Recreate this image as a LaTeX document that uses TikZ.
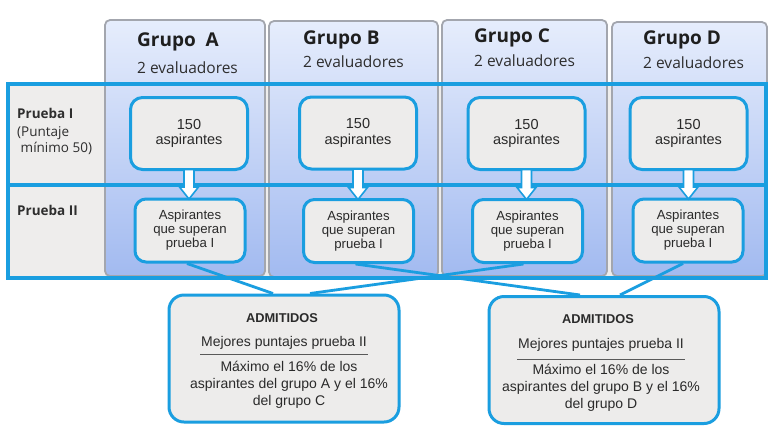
\documentclass[tikz,border=0pt]{standalone}
\usepackage{fontspec}
\setmainfont{Liberation Sans}
\newfontfamily\headfont{Open Sans}
\usetikzlibrary{calc}
\definecolor{flowblue}{HTML}{1A9EE0}
\definecolor{boxgray}{HTML}{EDECEB}
\definecolor{cellgray}{HTML}{EEEDEC}
\definecolor{panelline}{HTML}{A3A6AE}
\definecolor{paneltop}{HTML}{E6EDFC}
\definecolor{panelbot}{HTML}{A2BAF0}
\definecolor{txt}{HTML}{2A2A2A}
\tikzset{
  panel/.style={draw=panelline, line width=1.8pt, rounded corners=5pt,
    top color=paneltop, bottom color=panelbot, inner sep=0pt},
  topbox/.style={draw=flowblue, line width=3pt, rounded corners=12pt,
    fill=boxgray, minimum width=117pt, minimum height=72pt, align=center,
    font=\fontsize{14.5}{15.5}\selectfont, text=txt, inner sep=0pt},
  lowbox/.style={draw=flowblue, line width=3pt, rounded corners=11pt,
    fill=boxgray, minimum width=110pt, minimum height=63pt, align=center,
    font=\fontsize{13.2}{14}\selectfont, text=txt, inner sep=0pt},
  admbox/.style={draw=flowblue, line width=3pt, rounded corners=15pt,
    fill=boxgray, minimum width=230pt, minimum height=127pt, inner sep=0pt},
  grouptitle/.style={anchor=west, font=\headfont\bfseries\fontsize{19}{20}\selectfont, text=black!88, inner sep=0pt},
  groupsub/.style={anchor=west, font=\headfont\fontsize{15.5}{16}\selectfont, text=black!82, inner sep=0pt},
  rowlabel/.style={anchor=north west, align=left, font=\headfont\fontsize{13.5}{18}\selectfont, text=black!82, inner sep=0pt},
  admtext/.style={align=center, font=\fontsize{14}{17}\selectfont, text=txt, inner sep=0pt},
  link/.style={draw=flowblue, line width=2.8pt},
  hollow/.style={draw=flowblue, line width=1.6pt, fill=white, line join=miter}
}
% draws a hollow down arrow from #1 (top) to #2 (tip)
\newcommand{\downarrowshape}[2]{%
  \path[hollow] let \p1=#1, \p2=#2 in
    (\x1-5pt,\y1) -- (\x1+5pt,\y1) -- (\x1+5pt,\y2+12pt) -- (\x1+9.5pt,\y2+12pt)
    -- (\x1,\y2) -- (\x1-9.5pt,\y2+12pt) -- (\x1-5pt,\y2+12pt) -- cycle;}
\begin{document}
\begin{tikzpicture}[x=1pt,y=-1pt]
\useasboundingbox (0,0) rectangle (776,432);
\fill[white] (0,0) rectangle (776,432);

% table background
\fill[cellgray] (8,84) rectangle (766,278);

% group columns
\node[panel, minimum width=160pt, minimum height=256pt] (pA) at (185,148) {};
\node[panel, minimum width=169pt, minimum height=256pt] (pB) at (353.5,149) {};
\node[panel, minimum width=165pt, minimum height=256pt] (pC) at (524.5,148) {};
\node[panel, minimum width=155pt, minimum height=254pt] (pD) at (689.5,149) {};

% group headings
\node[grouptitle] (hA) at (137,42) {Grupo\ \ A};
\node[groupsub]   (sA) at (137,68) {2 evaluadores};
\node[grouptitle] (hB) at (303,40) {Grupo B};
\node[groupsub]   (sB) at (303,62) {2 evaluadores};
\node[grouptitle] (hC) at (474,38) {Grupo C};
\node[groupsub]   (sC) at (474,61) {2 evaluadores};
\node[grouptitle] (hD) at (643,40) {Grupo D};
\node[groupsub]   (sD) at (643,63) {2 evaluadores};

% table frame and row separator
\draw[flowblue, line width=3.2pt] (8,84) rectangle (766,278);
\draw[flowblue, line width=3.2pt] (8,185) -- (766,185);

% row labels
\node[rowlabel] (r1) at (17,108) {\textbf{Prueba I}\\(Puntaje\\[-2pt]\ mínimo 50)};
\node[rowlabel] (r2) at (17,205) {\textbf{Prueba II}};

% first test boxes
\node[topbox] (tA) at (189,133.5) {150\\aspirantes};
\node[topbox] (tB) at (358,133) {150\\aspirantes};
\node[topbox] (tC) at (526.5,133.5) {150\\aspirantes};
\node[topbox] (tD) at (688.5,133.5) {150\\aspirantes};

% second test boxes
\node[lowbox] (bA) at (190,230.5) {Aspirantes\\que superan\\prueba I};
\node[lowbox] (bB) at (358.5,231) {Aspirantes\\que superan\\prueba I};
\node[lowbox] (bC) at (527.5,231) {Aspirantes\\que superan\\prueba I};
\node[lowbox] (bD) at (688,230.5) {Aspirantes\\que superan\\prueba I};

% hollow arrows between the rows
\downarrowshape{([yshift=1.5pt]tA.south)}{([yshift=-1.5pt]bA.north)}
\downarrowshape{([yshift=1.5pt]tB.south)}{([yshift=-1.5pt]bB.north)}
\downarrowshape{([yshift=1.5pt]tC.south)}{([yshift=-1.5pt]bC.north)}
\downarrowshape{([yshift=1.5pt]tD.south)}{([yshift=-1.5pt]bD.north)}

% admission boxes
\node[admbox] (adm1) at (284,358.5) {};
\node[admbox] (adm2) at (604,360) {};

% links from groups to admission boxes
\draw[link] ([xshift=-3pt]bA.south) -- ([xshift=-11pt]adm1.north);
\draw[link] ([xshift=-4pt]bC.south) -- ([xshift=26pt]adm1.north);
\draw[link] ([xshift=-3pt]bB.south) -- ([xshift=-24pt]adm2.north);
\draw[link] ([xshift=-5pt]bD.south) -- ([xshift=16pt]adm2.north);

% admission box contents
\node[admtext, font=\bfseries\fontsize{12.8}{14}\selectfont] (a1t) at (282,318) {ADMITIDOS};
\node[admtext] (a1m) at (284,343) {Mejores puntajes prueba II};
\draw[black!65, line width=0.9pt] (200,354) -- (368,354);
\node[admtext] (a1d) at (289,385) {Máximo el 16\% de los\\aspirantes del grupo A y el 16\%\\del grupo C};

\node[admtext, font=\bfseries\fontsize{12.8}{14}\selectfont] (a2t) at (598,319) {ADMITIDOS};
\node[admtext] (a2m) at (601,345) {Mejores puntajes prueba II};
\draw[black!65, line width=0.9pt] (517,359) -- (685,359);
\node[admtext] (a2d) at (601,388) {Máximo el 16\% de los\\aspirantes del grupo B y el 16\%\\del grupo D};
\end{tikzpicture}
\end{document}
